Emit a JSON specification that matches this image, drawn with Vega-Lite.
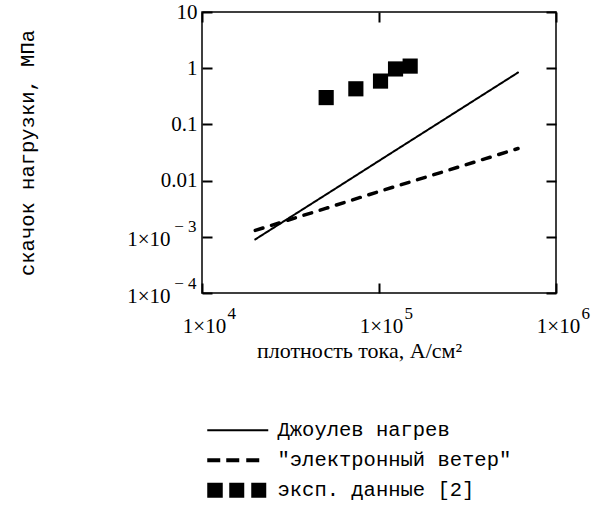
{
  "$schema": "https://vega.github.io/schema/vega-lite/v6.json",
  "width": 354,
  "height": 281,
  "autosize": "none",
  "padding": {"left": 202, "top": 12, "right": 46, "bottom": 219},
  "background": "white",
  "config": {
    "view": {"stroke": "black", "strokeWidth": 1.5},
    "axis": {"grid": false, "domain": false, "ticks": true, "tickColor": "black", "tickOpacity": 1, "tickWidth": 2, "tickSize": 10, "offset": -10, "labelColor": "black", "labelFont": "Liberation Serif", "labelFontSize": 21, "titleColor": "black", "titleFontWeight": "normal", "labelLimit": 0, "labelFlush": false, "labelOverlap": false},
    "legend": {"symbolStrokeWidth": 0, "symbolFillColor": "black", "symbolOpacity": 1, "labelFont": "Liberation Mono", "labelFontSize": 20.5, "labelColor": "black", "symbolSize": 400, "labelOffset": 50, "rowPadding": 9, "labelLimit": 0}
  },
  "data": {
    "values": [
      {"series": "Джоулев нагрев", "j": 20000, "p": 0.0009},
      {"series": "Джоулев нагрев", "j": 50000, "p": 0.0056},
      {"series": "Джоулев нагрев", "j": 100000, "p": 0.0225},
      {"series": "Джоулев нагрев", "j": 200000, "p": 0.09},
      {"series": "Джоулев нагрев", "j": 400000, "p": 0.36},
      {"series": "Джоулев нагрев", "j": 610000, "p": 0.837},
      {"series": "\"электронный ветер\"", "j": 20000, "p": 0.0013},
      {"series": "\"электронный ветер\"", "j": 50000, "p": 0.0032},
      {"series": "\"электронный ветер\"", "j": 100000, "p": 0.0064},
      {"series": "\"электронный ветер\"", "j": 200000, "p": 0.0125},
      {"series": "\"электронный ветер\"", "j": 400000, "p": 0.0246},
      {"series": "\"электронный ветер\"", "j": 610000, "p": 0.0372},
      {"series": "эксп. данные [2]", "j": 50300, "p": 0.30},
      {"series": "эксп. данные [2]", "j": 74000, "p": 0.43},
      {"series": "эксп. данные [2]", "j": 102000, "p": 0.59},
      {"series": "эксп. данные [2]", "j": 124000, "p": 0.97},
      {"series": "эксп. данные [2]", "j": 150000, "p": 1.09}
    ]
  },
  "resolve": {"axis": {"x": "independent", "y": "independent"}},
  "layer": [
    {
      "transform": [{"filter": "datum.series !== 'эксп. данные [2]'"}],
      "mark": {"type": "line", "color": "black", "strokeCap": "round", "clip": true},
      "encoding": {
        "x": {"field": "j", "type": "quantitative",
          "scale": {"type": "log", "domain": [10000, 1000000], "nice": false},
          "axis": {"orient": "bottom", "values": [10000, 100000, 1000000],
            "labelPadding": 22, "labelOffset": 2,
            "labelExpr": "'1×10'",
            "title": "плотность тока, А/см²", "titleFont": "Liberation Serif", "titleFontSize": 22,
            "titleX": 157, "titleY": 74, "titleBaseline": "alphabetic", "titleAlign": "center"}},
        "y": {"field": "p", "type": "quantitative",
          "scale": {"type": "log", "domain": [0.0001, 10], "nice": false},
          "axis": {"orient": "left", "values": [0.0001, 0.001, 0.01, 0.1, 1, 10],
            "labelPadding": {"condition": {"test": "datum.value < 0.005", "value": 32}, "value": 5},
            "labelOffset": {"condition": {"test": "datum.value < 0.005", "value": 3}, "value": 0},
            "labelExpr": "datum.value > 5 ? '10' : datum.value > 0.5 ? '1' : datum.value > 0.05 ? '0.1' : datum.value > 0.005 ? '0.01' : '1×10'",
            "title": "скачок нагрузки, МПа", "titleFont": "Liberation Mono", "titleFontSize": 20.5,
            "titleAngle": 270, "titleX": -179, "titleY": 140.5, "titleBaseline": "alphabetic", "titleAlign": "center"}},
        "strokeDash": {"field": "series", "type": "nominal",
          "scale": {"domain": ["Джоулев нагрев", "\"электронный ветер\""], "range": [[1, 0], [8, 9]]},
          "legend": null},
        "strokeWidth": {"field": "series", "type": "nominal",
          "scale": {"domain": ["Джоулев нагрев", "\"электронный ветер\""], "range": [2, 3.5]},
          "legend": null}
      }
    },
    {
      "transform": [{"filter": "datum.series === 'эксп. данные [2]'"}],
      "mark": {"type": "point", "shape": "square", "filled": true, "color": "black", "size": 230, "opacity": 1},
      "encoding": {
        "x": {"field": "j", "type": "quantitative",
          "axis": {"orient": "top", "values": [10000, 100000, 1000000], "labels": false, "title": null}},
        "y": {"field": "p", "type": "quantitative",
          "axis": {"orient": "right", "values": [0.0001, 0.001, 0.01, 0.1, 1, 10], "labels": false, "title": null}}
      }
    },
    {
      "transform": [{"filter": "datum.series === 'эксп. данные [2]'"}],
      "mark": {"type": "point", "filled": true, "color": "black", "opacity": 0, "size": 1},
      "encoding": {
        "x": {"field": "j", "type": "quantitative",
          "axis": {"orient": "bottom", "offset": 0, "values": [10000, 100000, 1000000], "ticks": false, "tickSize": 0,
            "labelFontSize": 17, "labelAlign": "left", "labelOffset": 25, "labelPadding": 12,
            "labelExpr": "datum.value < 50000 ? '4' : datum.value < 500000 ? '5' : '6'", "title": null}},
        "y": {"field": "p", "type": "quantitative",
          "axis": {"orient": "left", "offset": 0, "values": [0.0001, 0.001, 0.01, 0.1, 1, 10], "ticks": false, "tickSize": 0,
            "labelFontSize": 17, "labelAlign": "right", "labelOffset": -10, "labelPadding": 6,
            "labelExpr": "datum.value < 0.0005 ? '− 4' : datum.value < 0.005 ? '− 3' : ''", "title": null}}
      }
    },
    {
      "mark": {"type": "point", "filled": true, "color": "black", "opacity": 0, "clip": true, "size": 1},
      "encoding": {
        "x": {"field": "j", "type": "quantitative", "axis": null},
        "y": {"field": "p", "type": "quantitative", "axis": null},
        "shape": {"field": "series", "type": "nominal",
          "scale": {"domain": ["Джоулев нагрев", "\"электронный ветер\"", "эксп. данные [2]"],
            "range": ["M-1,-0.1H5.1V0.1H-1Z",
              "M-1,-0.2H0.3V0.2H-1Z M0.9,-0.2H2.2V0.2H0.9Z M2.9,-0.2H4.2V0.2H2.9Z",
              "M-1,-0.75H0.55V0.75H-1Z M1.2,-0.75H2.7V0.75H1.2Z M3.4,-0.75H4.9V0.75H3.4Z"]},
          "legend": {"title": null, "orient": "none", "legendX": 5, "legendY": 408, "direction": "vertical"}}
      }
    }
  ]
}
